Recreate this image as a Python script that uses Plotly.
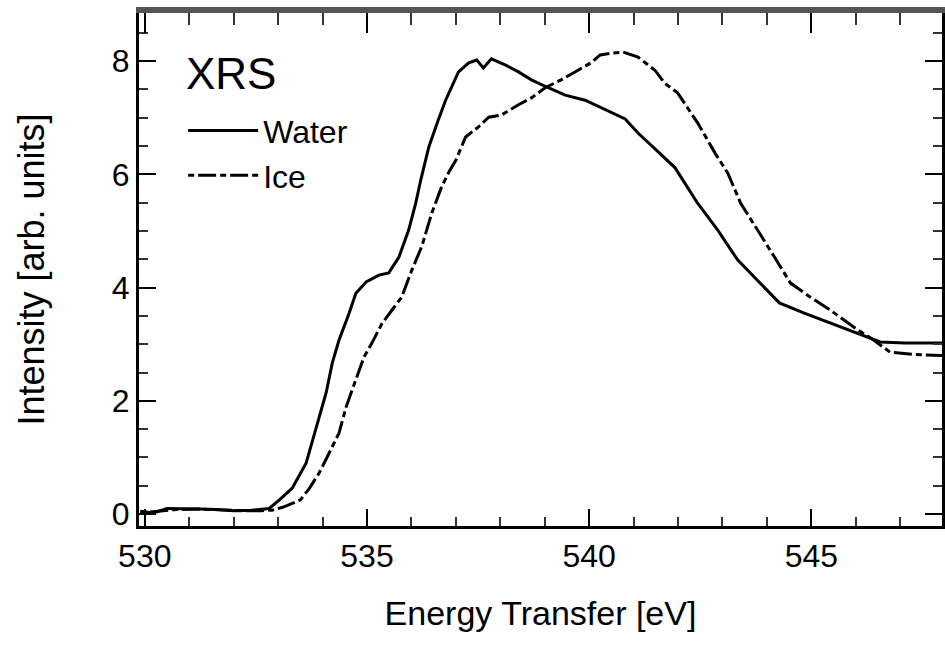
import plotly.graph_objects as go

# ---- data ----
water_x = [529.9, 530.2, 530.5, 530.8, 531.2, 531.6, 532.0, 532.4, 532.8, 533.03, 533.32, 533.63,
           533.86, 534.08, 534.22, 534.37, 534.6, 534.75, 534.98, 535.27, 535.49, 535.72, 535.94,
           536.1, 536.21, 536.39, 536.6, 536.77, 537.06, 537.29, 537.47, 537.62, 537.8, 538.12,
           538.41, 538.7, 539.08, 539.46, 539.91, 540.36, 540.81, 541.1, 541.45, 541.93, 542.44,
           542.89, 543.34, 543.79, 544.28, 544.84, 545.43, 546.03, 546.55, 547.1, 547.94]
water_y = [0.05, 0.02, 0.1, 0.1, 0.09, 0.08, 0.06, 0.07, 0.1, 0.25, 0.46, 0.9,
           1.54, 2.14, 2.67, 3.07, 3.55, 3.9, 4.1, 4.22, 4.26, 4.54, 5.02,
           5.5, 5.9, 6.48, 6.95, 7.31, 7.81, 7.97, 8.02, 7.88, 8.04, 7.93,
           7.81, 7.67, 7.53, 7.4, 7.31, 7.14, 6.98, 6.73, 6.48, 6.12, 5.49,
           5.02, 4.49, 4.13, 3.73, 3.55, 3.37, 3.2, 3.04, 3.02, 3.02]

ice_x = [529.9, 530.3, 530.7, 531.2, 531.7, 532.2, 532.6, 532.87, 533.1, 533.3, 533.5, 533.7,
         533.92, 534.15, 534.37, 534.53, 534.75, 534.93, 535.11, 535.34, 535.56, 535.78, 536.01,
         536.23, 536.46, 536.68, 536.85, 537.0, 537.22, 537.51, 537.74, 538.03, 538.41, 538.7,
         539.01, 539.37, 539.75, 540.04, 540.25, 540.49, 540.76, 541.1, 541.48, 541.7, 541.99,
         542.44, 542.83, 543.12, 543.41, 543.79, 544.17, 544.53, 544.98, 545.43, 545.96, 546.41,
         546.77, 547.3, 547.94]
ice_y = [0.02, 0.05, 0.08, 0.09, 0.07, 0.06, 0.06, 0.07, 0.12, 0.19, 0.25, 0.45,
         0.72, 1.08, 1.43, 1.89, 2.37, 2.77, 3.02, 3.37, 3.6, 3.83, 4.31,
         4.72, 5.32, 5.78, 6.05, 6.25, 6.66, 6.84, 7.01, 7.05, 7.23, 7.35,
         7.53, 7.67, 7.84, 7.97, 8.11, 8.14, 8.16, 8.07, 7.84, 7.61, 7.44,
         6.91, 6.38, 6.02, 5.49, 5.02, 4.54, 4.08, 3.83, 3.6, 3.3, 3.07,
         2.86, 2.82, 2.8]

x_range = [529.87, 547.94]
y_range = [-0.21, 8.85]
x_ticks = [530, 535, 540, 545]
y_ticks = [0, 2, 4, 6, 8]
legend_title = "XRS"

FONT = "Liberation Sans, Arial, sans-serif"

fig = go.Figure()
fig.add_trace(go.Scatter(x=water_x, y=water_y, mode="lines", name="Water",
                         line=dict(color="black", width=3)))
fig.add_trace(go.Scatter(x=ice_x, y=ice_y, mode="lines", name="Ice",
                         line=dict(color="black", width=3, dash="6px,4px,18px,4px")))
# empty trace to carry the top mirror axis
fig.add_trace(go.Scatter(x=[], y=[], xaxis="x2", showlegend=False, hoverinfo="skip"))

fig.add_annotation(text=legend_title, xref="paper", yref="paper", x=0.056, y=0.882,
                   xanchor="left", yanchor="middle", showarrow=False,
                   font=dict(size=44, family=FONT, color="black"))

fig.update_layout(
    width=945, height=649,
    margin=dict(l=139, r=0, t=13, b=123),
    paper_bgcolor="white", plot_bgcolor="white",
    font=dict(family=FONT, color="black"),
    showlegend=True,
    legend=dict(
        x=0.055, y=0.824, xanchor="left", yanchor="top",
        bgcolor="rgba(0,0,0,0)", borderwidth=0,
        font=dict(size=32, family=FONT),
        itemwidth=70, tracegroupgap=0,
    ),
    xaxis=dict(
        range=x_range, tickvals=x_ticks, ticktext=[str(v) for v in x_ticks],
        ticks="inside", ticklen=17, tickwidth=2, tickcolor="black",
        minor=dict(dtick=1, ticks="inside", ticklen=9, tickwidth=2, tickcolor="#333"),
        showline=True, linecolor="black", linewidth=3,
        showgrid=False, zeroline=False,
        tickfont=dict(size=32, family=FONT),
        title=dict(text="Energy Transfer [eV]", font=dict(size=34, family=FONT), standoff=28),
    ),
    xaxis2=dict(
        overlaying="x", side="top", matches="x", range=x_range,
        tickvals=x_ticks, showticklabels=False,
        ticks="inside", ticklen=20, tickwidth=2, tickcolor="black",
        minor=dict(dtick=1, ticks="inside", ticklen=12, tickwidth=2, tickcolor="#333"),
        showline=True, linecolor="#555", linewidth=6,
        showgrid=False, zeroline=False,
    ),
    yaxis=dict(
        range=y_range, tickvals=y_ticks, ticktext=[str(v) for v in y_ticks],
        ticks="inside", ticklen=17, tickwidth=2, tickcolor="black",
        minor=dict(dtick=0.5, ticks="inside", ticklen=9, tickwidth=2, tickcolor="#333"),
        showline=True, linecolor="black", linewidth=3, mirror="ticks",
        showgrid=False, zeroline=False,
        tickfont=dict(size=32, family=FONT),
        title=dict(text="Intensity [arb. units]", font=dict(size=36, family=FONT), standoff=57),
    ),
)

fig.write_html("out.html")
